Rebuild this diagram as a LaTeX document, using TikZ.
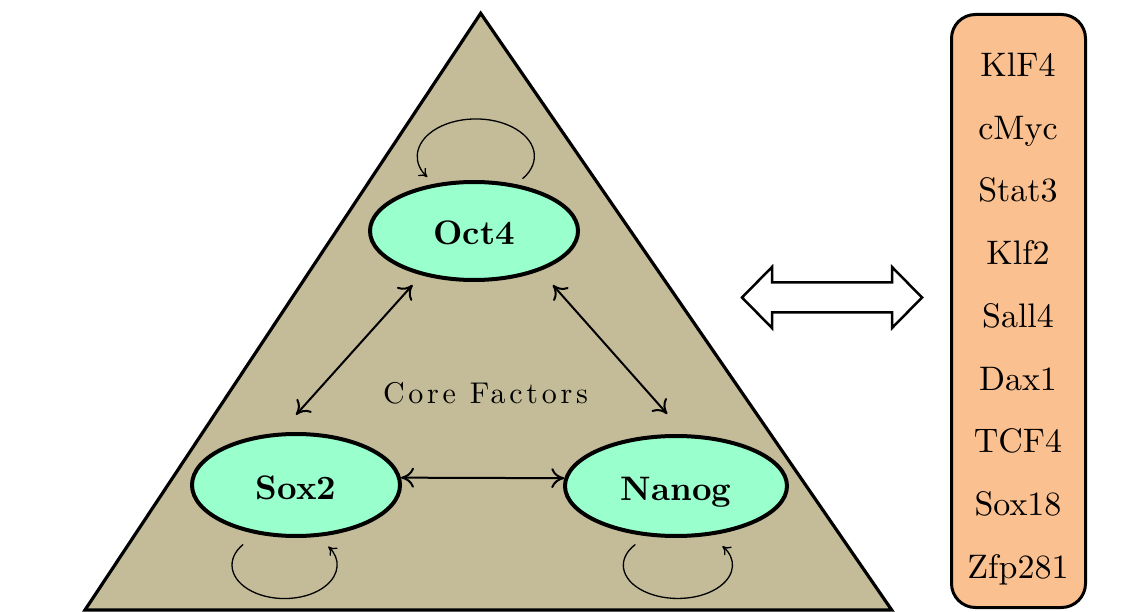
\documentclass[tikz,border=0pt]{standalone}
\usepackage{fontspec}
\setmainfont{lmroman10-regular.otf}[BoldFont=lmroman10-bold.otf]
\newfontfamily\spacedfont{lmroman10-regular.otf}[LetterSpace=12.5]
\usetikzlibrary{shapes.geometric,arrows.meta}
\definecolor{tanfill}{RGB}{196,188,152}
\definecolor{mintfill}{RGB}{153,255,204}
\definecolor{peachfill}{RGB}{250,192,144}
\begin{document}
\begin{tikzpicture}[x=1pt,y=-1pt,
  core/.style={ellipse,draw,line width=4pt,fill=mintfill,inner sep=0pt,
    text height=28pt,text depth=0pt,font=\fontsize{34}{40}\selectfont\bfseries},
  link/.style={{To[length=13pt,width=20pt]}-{To[length=13pt,width=20pt]},line width=2pt},
  selfloop/.style={-{To[length=8pt,width=11pt]},line width=1.3pt},
  item/.style={anchor=base,font=\fontsize{34}{40}\selectfont},
]
\useasboundingbox (0,0) rectangle (1143,612);
% triangle
\draw[line width=3.2pt,fill=tanfill,line join=miter] (480.7,13.3) -- (891.7,610) -- (85,610) -- cycle;
% core factor nodes
\node[core,minimum width=208pt,minimum height=98pt] (oct4) at (474,231) {Oct4};
\node[core,minimum width=208pt,minimum height=102pt] (sox2) at (296,485) {Sox2};
\node[core,minimum width=222pt,minimum height=100pt] (nanog) at (676,486) {Nanog};
% links
\draw[link,shorten <=13pt,shorten >=24pt] (oct4.220) -- (sox2.107);
\draw[link,shorten <=19pt,shorten >=27pt] (oct4.329) -- (nanog.80);
\draw[link] (sox2.4) -- (nanog.176);
% self loops
\draw[selfloop] ([yshift=7pt]oct4.43) arc[start angle=37,end angle=-214,x radius=58.5,y radius=37.3];
\draw[selfloop] ([yshift=-13.5pt]sox2.221) arc[start angle=218,end angle=-33.5,x radius=52.5,y radius=33.5];
\draw[selfloop] ([yshift=-10pt]nanog.230) arc[start angle=218.7,end angle=-35.2,x radius=54.5,y radius=33.2];
% label
\node[anchor=base,inner sep=0pt,font=\spacedfont\fontsize{30}{36}\selectfont] (core) at (485.5,403) {Core Factors};
% hollow double arrow
\draw[line width=2.5pt,fill=white,line join=miter] (742,297.5) -- (772,267) -- (772,282.5) -- (892,282.5) -- (892,267) -- (922,297.5) -- (892,328) -- (892,312.5) -- (772,312.5) -- (772,328) -- cycle;
% list box
\node[draw,line width=3pt,fill=peachfill,rounded corners=24pt,minimum width=134pt,minimum height=593pt,inner sep=0pt] (box) at (1018.5,311) {};
\node[item] (i1) at (1018,76.5) {KlF4};
\node[item] (i2) at (1018,139.2) {cMyc};
\node[item] (i3) at (1018,201.9) {Stat3};
\node[item] (i4) at (1018,264.6) {Klf2};
\node[item] (i5) at (1018,327.3) {Sall4};
\node[item] (i6) at (1018,390) {Dax1};
\node[item] (i7) at (1018,452.7) {TCF4};
\node[item] (i8) at (1018,515.4) {Sox18};
\node[item] (i9) at (1018,578.1) {Zfp281};
\end{tikzpicture}
\end{document}
